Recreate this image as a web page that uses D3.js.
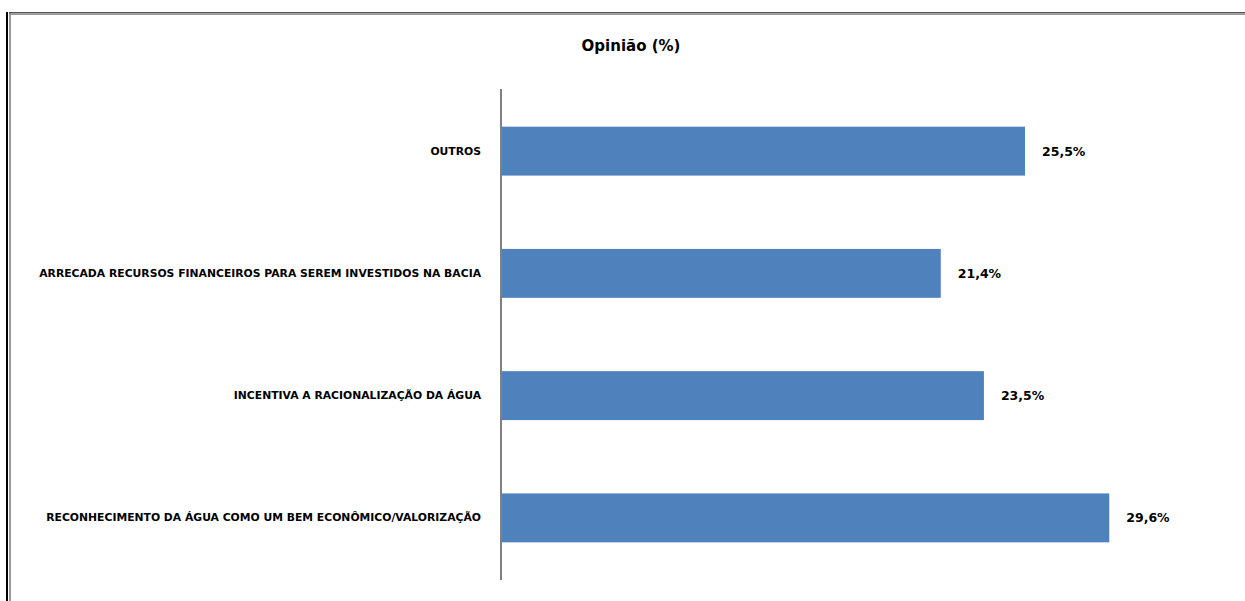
<!DOCTYPE html>
<html>
<head>
<meta charset="utf-8">
<script src="https://cdn.jsdelivr.net/npm/d3@7"></script>
<style>
  body { margin: 0; background: #fff; }
  svg { display: block; font-family: "DejaVu Sans", Arial, sans-serif; }
</style>
</head>
<body>
<script>
const categories = [
  'OUTROS',
  'ARRECADA RECURSOS FINANCEIROS PARA SEREM INVESTIDOS NA BACIA',
  'INCENTIVA A RACIONALIZAÇÃO DA ÁGUA',
  'RECONHECIMENTO DA ÁGUA COMO UM BEM ECONÔMICO/VALORIZAÇÃO'
]
const values = [25.5, 21.4, 23.5, 29.6]
const title = 'Opinião (%)'

function drawChart() {
  const svgWidth = 1245, svgHeight = 601
  const margin = {top: 90, right: 24, bottom: 22, left: 501}
  const width = svgWidth - margin.left - margin.right,
    height = svgHeight - margin.top - margin.bottom

  const data = categories.map(function(c, i) { return {cat: c, val: values[i]} })

  const svg = d3.select('body').append('svg')
    .attr('width', svgWidth)
    .attr('height', svgHeight)

  // frame
  svg.append('rect').attr('x', 6).attr('y', 12).attr('width', 2).attr('height', svgHeight - 12).attr('fill', '#000')
  svg.append('rect').attr('x', 9).attr('y', 12).attr('width', 2).attr('height', svgHeight - 12).attr('fill', '#999')
  svg.append('rect').attr('x', 9).attr('y', 12).attr('width', svgWidth - 9).attr('height', 1.5).attr('fill', '#555')
  svg.append('rect').attr('x', 11).attr('y', 13.5).attr('width', svgWidth - 11).attr('height', 1.5).attr('fill', '#999')

  svg.append('text')
    .attr('x', 631)
    .attr('y', 51)
    .attr('text-anchor', 'middle')
    .style('font-size', '15px')
    .style('font-weight', 'bold')
    .text(title)

  const x = d3.scaleLinear().domain([0, 35]).range([0, 35 * 20.55])
  const y = d3.scaleBand().domain(categories).range([0, height]).paddingInner(0.6).paddingOuter(0.3)

  const g = svg.append('g')
    .attr('transform', 'translate(' + margin.left + ',' + margin.top + ')')

  g.selectAll('.bar')
    .data(data)
    .enter().append('rect')
    .attr('class', 'bar')
    .attr('x', 0)
    .attr('y', function(d) { return y(d.cat) })
    .attr('width', function(d) { return x(d.val) })
    .attr('height', y.bandwidth())
    .attr('fill', '#4F81BD')

  g.selectAll('.val')
    .data(data)
    .enter().append('text')
    .attr('class', 'val')
    .attr('x', function(d) { return x(d.val) + 17 })
    .attr('y', function(d) { return y(d.cat) + y.bandwidth() / 2 })
    .attr('dy', '0.35em')
    .style('font-size', '12.5px')
    .style('font-weight', 'bold')
    .text(function(d) { return d.val.toFixed(1).replace('.', ',') + '%' })

  const yAxis = d3.axisLeft(y).tickSize(0).tickPadding(20)
  const ax = g.append('g').call(yAxis)
  ax.select('.domain').attr('stroke', '#808080').attr('stroke-width', 2).attr('d', 'M0,-1V' + (height + 1))
  ax.selectAll('text')
    .style('font-size', '10.8px')
    .style('font-weight', 'bold')
    .style('font-family', '"DejaVu Sans", Arial, sans-serif')
    .attr('fill', '#000')
}

drawChart()
</script>
</body>
</html>
